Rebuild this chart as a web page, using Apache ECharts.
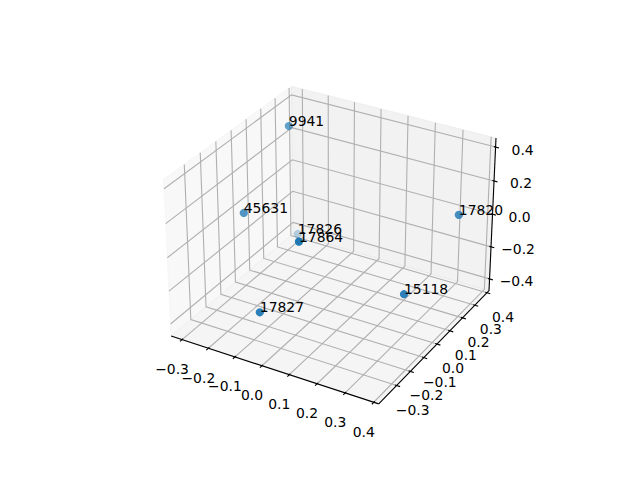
<!DOCTYPE html>
<html>
<head>
<meta charset="utf-8">
<script src="https://cdn.jsdelivr.net/npm/echarts@6/dist/echarts.min.js"></script>
<style>
html,body{margin:0;padding:0;background:#ffffff;}
#chart{width:640px;height:480px;}
</style>
</head>
<body>
<div id="chart"></div>
<script>
// ---------------- data ----------------
const pointLabels = ['9941', '45631', '17826', '17864', '17827', '15118', '17820'];
const xValues = [-0.239, -0.274, -0.220, -0.039, -0.105, 0.279, 0.343];
const yValues = [0.207, -0.048, 0.227, -0.098, -0.250, 0.034, 0.309];
const zValues = [0.387, 0.023, -0.280, -0.004, -0.348, -0.267, 0.039];

const xTicks = [-0.3, -0.2, -0.1, 0.0, 0.1, 0.2, 0.3, 0.4];
const xTickLabels = ['\u22120.3', '\u22120.2', '\u22120.1', '0.0', '0.1', '0.2', '0.3', '0.4'];
const yTicks = [-0.3, -0.2, -0.1, 0.0, 0.1, 0.2, 0.3, 0.4];
const yTickLabels = ['\u22120.3', '\u22120.2', '\u22120.1', '0.0', '0.1', '0.2', '0.3', '0.4'];
const zTicks = [-0.4, -0.2, 0.0, 0.2, 0.4];
const zTickLabels = ['\u22120.4', '\u22120.2', '0.0', '0.2', '0.4'];

const xLimits = [-0.327, 0.402];
const yLimits = [-0.41, 0.40];
const zLimits = [-0.456, 0.434];

// ---------------- view (matplotlib-like default 3D view) ----------------
const ELEV = 30, AZIM = -60, DIST = 10;
const VIEW_LIM = [-0.095, 0.09];
const FONT = '13.9px "DejaVu Sans"';

const nrm0 = Math.hypot(4, 4, 3);
const ASPECT = [4, 4, 3].map(v => v * 1.8294640721620434 / nrm0);
const deg = Math.PI / 180;
const sub = (a, b) => a.map((v, i) => v - b[i]);
const dot = (a, b) => a[0] * b[0] + a[1] * b[1] + a[2] * b[2];
const cross = (a, b) => [a[1] * b[2] - a[2] * b[1], a[2] * b[0] - a[0] * b[2], a[0] * b[1] - a[1] * b[0]];
const unit = a => { const n = Math.hypot(a[0], a[1], a[2]); return a.map(v => v / n); };
const R0 = ASPECT.map(a => a / 2);
const PS = [Math.cos(ELEV * deg) * Math.cos(AZIM * deg), Math.cos(ELEV * deg) * Math.sin(AZIM * deg), Math.sin(ELEV * deg)];
const EYE = R0.map((r, i) => r + DIST * PS[i]);
const Wv = unit(sub(EYE, R0));
const Uv = unit(cross([0, 0, 1], Wv));
const Vv = cross(Wv, Uv);
const LIMS = [xLimits, yLimits, zLimits];

function project(x, y, z) {
  const q = [x, y, z];
  const p = q.map((v, i) => (v - LIMS[i][0]) / (LIMS[i][1] - LIMS[i][0]) * ASPECT[i]);
  const d = sub(p, EYE);
  const zv = dot(Wv, d);
  return [dot(Uv, d) / (-zv), dot(Vv, d) / (-zv), -zv];
}

// pane bounds (padded by range/48 like mpl)
const PAD = LIMS.map(l => (l[1] - l[0]) / 48);
const DEL = LIMS.map(l => (l[1] - l[0]) / 12);
const LO = LIMS.map((l, i) => l[0] - PAD[i]);
const HI = LIMS.map((l, i) => l[1] + PAD[i]);

const XLBL_OFF = [-10, 29.5];
const YLBL_OFF = [16, 24];
const ZLBL_OFF = [27, 2.5];

function frameRender(params, api) {
  const P = (x, y, z) => { const q = project(x, y, z); return api.coord([q[0], q[1]]); };
  const ch = [];
  const pane = (pts, c) => ch.push({
    type: 'polygon', shape: { points: pts },
    style: { fill: c, stroke: c, lineWidth: 1 }, silent: true
  });
  // x pane (at xmin), y pane (at ymax), z pane (at zmin)
  pane([P(LO[0], LO[1], LO[2]), P(LO[0], HI[1], LO[2]), P(LO[0], HI[1], HI[2]), P(LO[0], LO[1], HI[2])], 'rgba(242,242,242,0.5)');
  pane([P(LO[0], HI[1], LO[2]), P(HI[0], HI[1], LO[2]), P(HI[0], HI[1], HI[2]), P(LO[0], HI[1], HI[2])], 'rgba(230,230,230,0.5)');
  pane([P(LO[0], LO[1], LO[2]), P(HI[0], LO[1], LO[2]), P(HI[0], HI[1], LO[2]), P(LO[0], HI[1], LO[2])], 'rgba(236,236,236,0.5)');

  const gl = pts => ch.push({ type: 'polyline', shape: { points: pts }, style: { stroke: '#b0b0b0', lineWidth: 1.11, fill: null }, silent: true });
  xTicks.forEach(x => gl([P(x, LO[1], LO[2]), P(x, HI[1], LO[2]), P(x, HI[1], HI[2])]));
  yTicks.forEach(y => gl([P(LO[0], y, HI[2]), P(LO[0], y, LO[2]), P(HI[0], y, LO[2])]));
  zTicks.forEach(z => gl([P(HI[0], HI[1], z), P(LO[0], HI[1], z), P(LO[0], LO[1], z)]));

  const ln = (a, b) => ch.push({ type: 'line', shape: { x1: a[0], y1: a[1], x2: b[0], y2: b[1] }, style: { stroke: '#000', lineWidth: 1.11 }, silent: true });
  ln(P(LO[0], LO[1], LO[2]), P(HI[0], LO[1], LO[2]));
  ln(P(HI[0], LO[1], LO[2]), P(HI[0], HI[1], LO[2]));
  ln(P(HI[0], HI[1], LO[2]), P(HI[0], HI[1], HI[2]));

  const txt = (pt, s, off) => ch.push({
    type: 'text', x: pt[0] + off[0], y: pt[1] + off[1],
    style: { text: s, font: FONT, fill: '#000', align: 'center', verticalAlign: 'middle' }, silent: true
  });
  xTicks.forEach((x, i) => {
    ln(P(x, LO[1] + 0.1 * DEL[1], LO[2]), P(x, LO[1] - 0.2 * DEL[1], LO[2]));
    txt(P(x, LO[1], LO[2]), xTickLabels[i], XLBL_OFF);
  });
  yTicks.forEach((y, i) => {
    ln(P(HI[0] - 0.1 * DEL[0], y, LO[2]), P(HI[0] + 0.2 * DEL[0], y, LO[2]));
    txt(P(HI[0], y, LO[2]), yTickLabels[i], YLBL_OFF);
  });
  zTicks.forEach((z, i) => {
    ln(P(HI[0] - 0.1 * DEL[0], HI[1], z), P(HI[0] + 0.2 * DEL[0], HI[1], z));
    txt(P(HI[0], HI[1], z), zTickLabels[i], ZLBL_OFF);
  });
  return { type: 'group', children: ch };
}

// depth shading like mpl (farthest alpha 0.3)
const depths = pointLabels.map((l, i) => project(xValues[i], yValues[i], zValues[i])[2]);
const dMin = Math.min(...depths), dMax = Math.max(...depths);
const alphas = depths.map(d => 1 - 0.7 * (d - dMin) / (dMax - dMin));

const pointData = pointLabels.map((l, i) => [xValues[i], yValues[i], zValues[i]]);

function pointRender(params, api) {
  const i = params.dataIndex;
  const q = project(api.value(0), api.value(1), api.value(2));
  const c = api.coord([q[0], q[1]]);
  const rank = 100 - Math.round((depths[i] - dMin) / (dMax - dMin) * 50);
  return {
    type: 'group', children: [
      { type: 'circle', shape: { cx: c[0], cy: c[1], r: 4.1 }, style: { fill: '#1f77b4', opacity: alphas[i] }, z2: rank },
      { type: 'text', x: c[0], y: c[1] - 4.9, z2: 500,
        style: { text: pointLabels[i], font: FONT, fill: '#000', align: 'left', verticalAlign: 'middle' } }
    ]
  };
}

const chart = echarts.init(document.getElementById('chart'), null, { renderer: 'svg', width: 640, height: 480 });
chart.setOption({
  animation: false,
  backgroundColor: '#ffffff',
  grid: { left: 143.2, top: 57.6, width: 369.6, height: 369.6, show: false },
  xAxis: { type: 'value', min: VIEW_LIM[0], max: VIEW_LIM[1], show: false },
  yAxis: { type: 'value', min: VIEW_LIM[0], max: VIEW_LIM[1], show: false },
  series: [
    { type: 'custom', coordinateSystem: 'cartesian2d', data: [[0, 0]], renderItem: frameRender, silent: true, z: 1, clip: false },
    { type: 'custom', coordinateSystem: 'cartesian2d', data: pointData, renderItem: pointRender, silent: true, z: 2, clip: false,
      encode: { x: 0, y: 1 } }
  ]
});
</script>
</body>
</html>
